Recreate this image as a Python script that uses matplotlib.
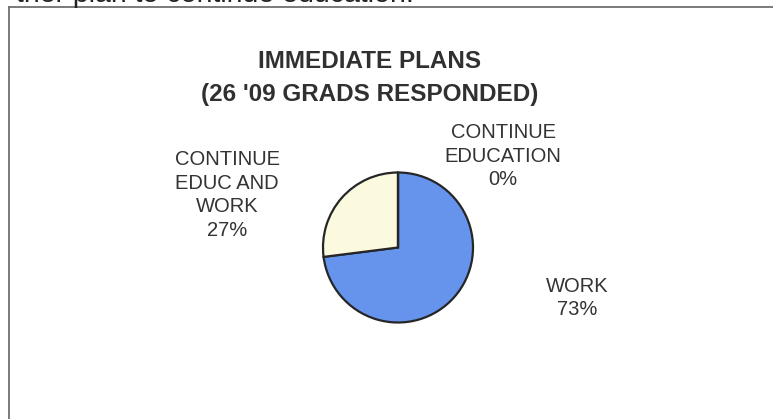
import matplotlib
matplotlib.use("Agg")
import matplotlib.pyplot as plt
from matplotlib.lines import Line2D

plt.rcParams["font.family"] = ["Liberation Sans", "DejaVu Sans"]

W, H = 773, 419

categories = ["WORK", "CONTINUE\nEDUC AND\nWORK", "CONTINUE\nEDUCATION"]
percents = [73, 27, 0]
colors = ["#6694EC", "#FBFADF", "#B0C4F0"]

title = "IMMEDIATE PLANS\n(26 '09 GRADS RESPONDED)"
caption = "ther plan to continue education."

# where each slice label sits (pixel centres, measured from top-left)
label_pos = [(577, 298), (227, 195), (503, 156)]


def fx(x):
    return x / W


def fy(y):
    return 1 - y / H


fig = plt.figure(figsize=(W / 100, H / 100), dpi=100)
fig.patch.set_facecolor("white")

# running text above the chart box, cut off by the page edge
fig.text(fx(16), fy(1.5), caption, fontsize=20.5, color="#222222",
         ha="left", va="baseline")

# chart frame (only top and left edges are on the page)
fig.add_artist(Line2D([fx(8.5), fx(8.5)], [fy(7.5), fy(H + 5)],
                      color="#707070", lw=1.3, transform=fig.transFigure))
fig.add_artist(Line2D([fx(8.5), fx(W + 5)], [fy(7.5), fy(7.5)],
                      color="#707070", lw=1.3, transform=fig.transFigure))

fig.text(fx(370), fy(78), title, fontsize=17.5, fontweight="bold",
         color="#303030", ha="center", va="center", linespacing=1.5)

cx, cy, r = 398, 247.5, 75
ax = fig.add_axes([fx(cx - r), fy(cy + r), 2 * r / W, 2 * r / H])
wedges, _ = ax.pie(percents, colors=colors, startangle=90, counterclock=False,
                   wedgeprops=dict(edgecolor="#262626", linewidth=1.6))
for w in wedges:
    w.set_clip_on(False)
ax.set_xlim(-1, 1)
ax.set_ylim(-1, 1)
ax.set_aspect("equal")
ax.axis("off")

for name, pct, (x, y) in zip(categories, percents, label_pos):
    fig.text(fx(x), fy(y), f"{name}\n{pct}%", fontsize=14.5, color="#333333",
             ha="center", va="center", linespacing=1.3)

fig.savefig("out.png", dpi=100)
